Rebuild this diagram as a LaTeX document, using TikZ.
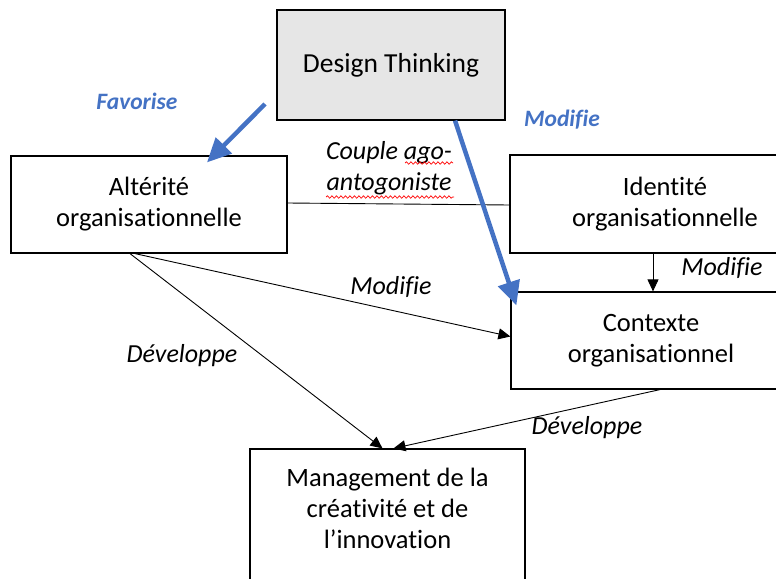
\documentclass[tikz,border=0pt]{standalone}
\usepackage{fontspec}
\setmainfont{Carlito}[Ligatures={NoCommon}]
\usetikzlibrary{arrows.meta,decorations.pathmorphing}
\definecolor{dtblue}{HTML}{4472C4}
\definecolor{dtgray}{HTML}{E6E6E6}

\begin{document}
\begin{tikzpicture}[x=1pt,y=-1pt,
  box/.style={draw,line width=1.2pt,align=center,font=\fontsize{26.5}{31}\selectfont,inner sep=0pt},
  lbl/.style={font=\fontsize{26}{31}\selectfont\itshape},
  bluelbl/.style={font=\fontsize{23.5}{31}\selectfont\bfseries\itshape,text=dtblue},
  link/.style={-{Triangle[length=12pt,width=11pt]},line width=0.9pt},
  bluelink/.style={-{Triangle[length=24pt,width=22pt]},line width=4.5pt,dtblue},
  wavy/.style={red,line width=0.7pt,decorate,decoration={snake,amplitude=1.2pt,segment length=4.5pt}}]
  \useasboundingbox (0,0) rectangle (776,578);
  \clip (0,0) rectangle (776,578);
  % boxes
  \node[box,fill=dtgray,minimum width=228pt,minimum height=110pt,font=\fontsize{27.5}{31}\selectfont] (dt) at (391,65) {Design Thinking};
  \node[box,minimum width=276pt,minimum height=97pt] (alt) at (149,204.5) {Altérité\\organisationnelle};
  \node[box,minimum width=310pt,minimum height=98pt] (idt) at (665,204) {Identité\\organisationnelle};
  \node[box,minimum width=280pt,minimum height=97pt] (ctx) at (651,340.5) {Contexte\\organisationnel};
  \node[box,minimum width=275pt,minimum height=150pt] (mgmt) at (387.5,524) {Management de la\\créativité et de\\l'innovation\\\mbox{}};
  % labels
  \node[lbl,align=center] (couple) at (389,168) {Couple ago-\\antogoniste};
  \node[lbl] (modA) at (391,287) {Modifie};
  \node[lbl] (devA) at (182,356) {Développe};
  \node[lbl] (modB) at (722,268) {Modifie};
  \node[lbl] (devB) at (587,428) {Développe};
  \node[bluelbl] (fav) at (137,101) {Favorise};
  \node[bluelbl] (modC) at (562,120) {Modifie};
  % spell-check waves
  \draw[wavy] ([shift={(16,-5)}]couple.center) -- ([shift={(64,-5)}]couple.center);
  \draw[wavy] ([shift={(-63,29)}]couple.center) -- ([shift={(65,29)}]couple.center);
  % connectors
  \draw[line width=0.9pt] ([yshift=1.5pt]alt.east) -- ([yshift=-1pt]idt.west);
  \draw[link] ([xshift=-14pt]alt.south) -- ([yshift=4pt]ctx.west);
  \draw[link] ([xshift=-19pt]alt.south) -- ([xshift=-5pt]mgmt.north);
  \draw[link] ([xshift=-12pt]idt.south) -- ([xshift=2pt]ctx.north);
  \draw[link] ([xshift=9pt]ctx.south) -- ([xshift=6pt]mgmt.north);
  % blue arrows
  \coordinate (favstart) at (265,104);
  \draw[bluelink] (favstart) -- ([shift={(58,7)}]alt.north);
  \draw[bluelink] ([xshift=64pt]dt.south) -- ([shift={(6,14)}]ctx.north west);
\end{tikzpicture}
\end{document}
